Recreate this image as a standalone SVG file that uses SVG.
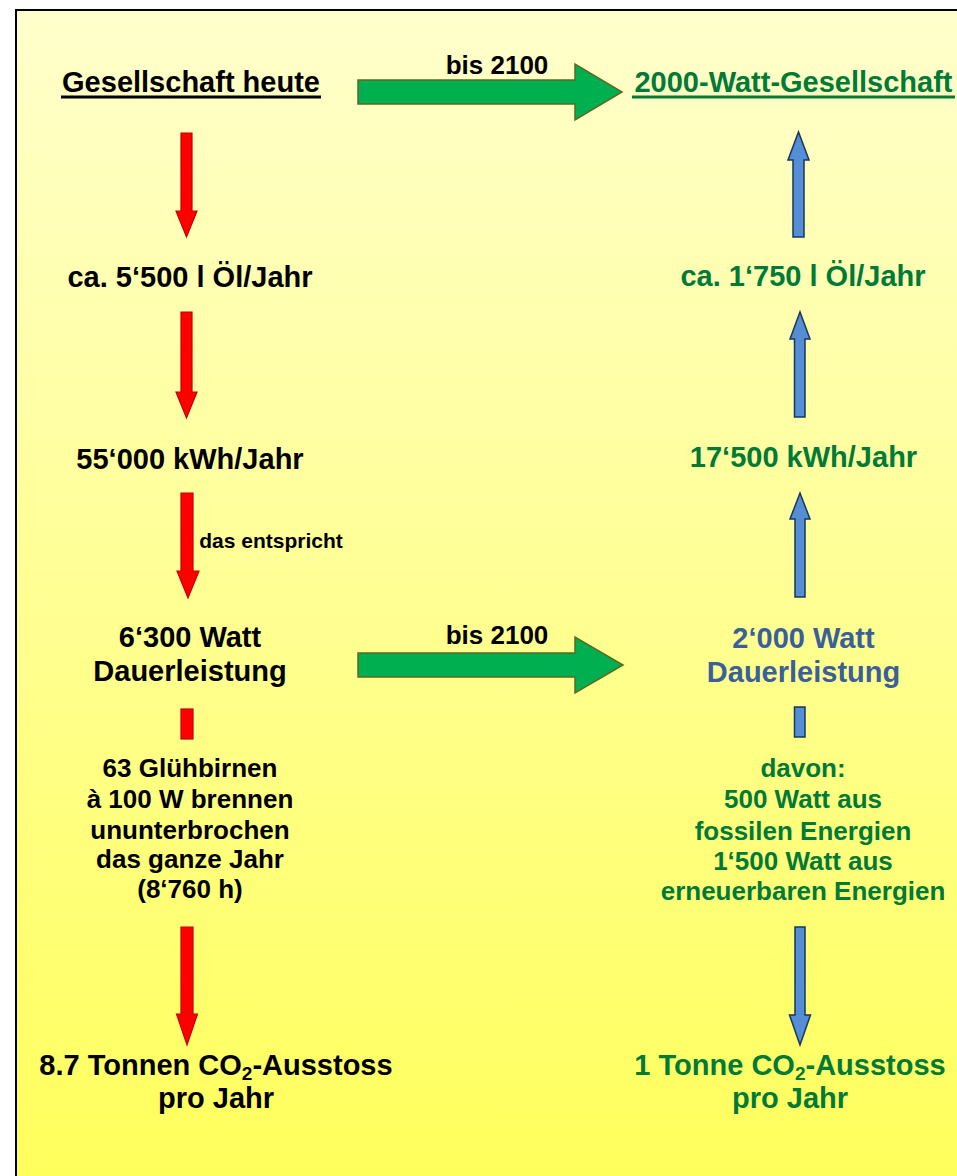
<svg xmlns="http://www.w3.org/2000/svg" width="957" height="1176" viewBox="0 0 957 1176">
<defs>
<linearGradient id="bg" x1="0" y1="10" x2="0" y2="1176" gradientUnits="userSpaceOnUse">
<stop offset="0" stop-color="#FFFFCC"/>
<stop offset="1" stop-color="#FFFF5C"/>
</linearGradient>
<style>
text{font-family:"Liberation Sans",Arial,sans-serif;font-weight:bold;text-anchor:middle}
.big{font-size:29px}
.mid{font-size:26px}
.small{font-size:21px}
.k{fill:#000}
.g{fill:#007A37}
.b{fill:#3A5F9A}
.red{fill:#FF0000;stroke:#C00000;stroke-width:1.2}
.blue{fill:#558ED5;stroke:#17375E;stroke-width:1.5}
.grn{fill:#00B050;stroke:#5A6A22;stroke-width:1.5}
</style>
</defs>
<rect x="16" y="10" width="1000" height="1200" fill="url(#bg)" stroke="#000" stroke-width="2"/>

<g id="connectors">
<path class="red" d="M181,133 H192 V211 H197 L186.5,237 L176,211 H181 Z"/>
<path class="red" d="M181,312 H192 V392 H197 L186.5,418 L176,392 H181 Z"/>
<path class="red" d="M181,493 H193 V571 H199 L188,598 L177,571 H181 Z"/>
<rect class="red" x="181" y="709" width="12" height="30"/>
<path class="red" d="M181,927 H193 V1014 H197.5 L187,1045 L176.5,1014 H181 Z"/>

<path class="blue" d="M793,237 V160 H788 L798.5,132 L809,160 H804 V237 Z"/>
<path class="blue" d="M794.5,417 V339 H790 L800,312 L810,339 H805 V417 Z"/>
<path class="blue" d="M795,597 V519 H790 L800,493 L810,519 H805 V597 Z"/>
<rect class="blue" x="794.5" y="707" width="10.5" height="30"/>
<path class="blue" d="M795,927 H805 V1015 H810.5 L800,1045 L789.5,1015 H795 Z"/>

<path class="grn" d="M358,80 H575 V64 L622,92 L575,120 V104 H358 Z"/>
<path class="grn" d="M358,653 H575 V637 L623,665 L575,693 V677 H358 Z"/>
</g>

<g id="label-bis-2100-top"><text class="k" x="497" y="74" style="font-size:26px">bis 2100</text></g>
<g id="label-bis-2100-mid"><text class="k" x="497" y="644" style="font-size:26px">bis 2100</text></g>
<g id="label-das-entspricht"><text class="k small" x="271" y="548">das entspricht</text></g>

<g id="node-gesellschaft-heute">
<text class="k big" x="191" y="92">Gesellschaft heute</text>
<rect x="61" y="95.5" width="260" height="3" fill="#000"/>
</g>
<g id="node-oel-heute"><text class="k big" x="190" y="287">ca. 5‘500 l Öl/Jahr</text></g>
<g id="node-kwh-heute"><text class="k big" x="190" y="469">55‘000 kWh/Jahr</text></g>
<g id="node-watt-heute">
<text class="k big" x="190" y="647">6‘300 Watt</text>
<text class="k big" x="190" y="681">Dauerleistung</text>
</g>
<g id="node-gluehbirnen">
<text class="k mid" x="190" y="777">63 Glühbirnen</text>
<text class="k mid" x="190" y="808">à 100 W brennen</text>
<text class="k mid" x="190" y="839">ununterbrochen</text>
<text class="k mid" x="190" y="868">das ganze Jahr</text>
<text class="k mid" x="190" y="898">(8‘760 h)</text>
</g>
<g id="node-co2-heute">
<text class="k big" x="216" y="1075">8.7 Tonnen CO<tspan style="font-size:19px" dy="5">2</tspan><tspan dy="-5">-Ausstoss</tspan></text>
<text class="k big" x="216" y="1108">pro Jahr</text>
</g>

<g id="node-2000-watt-gesellschaft">
<text class="g big" x="793.5" y="92">2000-Watt-Gesellschaft</text>
<rect x="632" y="95.5" width="323" height="3" fill="#007A37"/>
</g>
<g id="node-oel-2000"><text class="g big" x="803" y="286">ca. 1‘750 l Öl/Jahr</text></g>
<g id="node-kwh-2000"><text class="g big" x="803.5" y="467">17‘500 kWh/Jahr</text></g>
<g id="node-watt-2000">
<text class="b big" x="803.5" y="648">2‘000 Watt</text>
<text class="b big" x="803.5" y="682">Dauerleistung</text>
</g>
<g id="node-davon">
<text class="g mid" x="803" y="777">davon:</text>
<text class="g mid" x="803" y="808">500 Watt aus</text>
<text class="g mid" x="803" y="840">fossilen Energien</text>
<text class="g mid" x="803" y="870">1‘500 Watt aus</text>
<text class="g mid" x="803" y="900">erneuerbaren Energien</text>
</g>
<g id="node-co2-2000">
<text class="g big" x="790" y="1075">1 Tonne CO<tspan style="font-size:19px" dy="5">2</tspan><tspan dy="-5">-Ausstoss</tspan></text>
<text class="g big" x="790" y="1108">pro Jahr</text>
</g>
</svg>
